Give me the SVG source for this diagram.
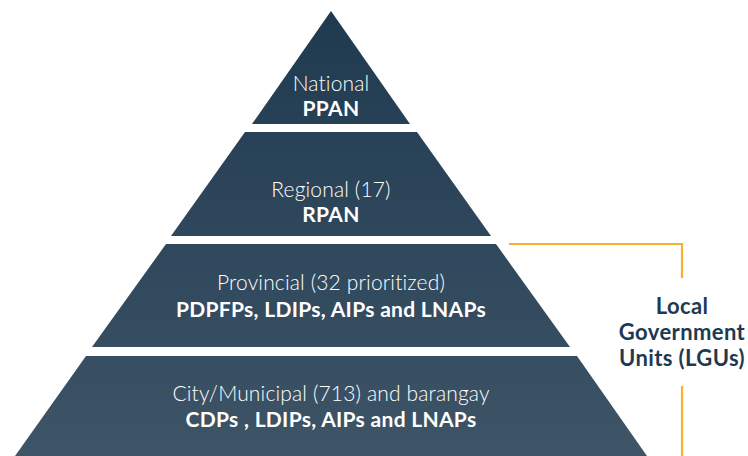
<svg xmlns="http://www.w3.org/2000/svg" width="748" height="456" viewBox="0 0 748 456">
  <defs>
    <!-- vertical shading shared by every tier of the pyramid -->
    <linearGradient id="tierFill" gradientUnits="userSpaceOnUse" x1="0" y1="11" x2="0" y2="456">
      <stop offset="0" stop-color="#1f3a50"/>
      <stop offset="1" stop-color="#3e5467"/>
    </linearGradient>
  </defs>
  <style>
    .tier { fill: url(#tierFill); }
    .lbl { font-family: Lato, "Open Sans", "Liberation Sans", sans-serif; fill: #ffffff; text-anchor: middle; }
    .reg { font-size: 21px; font-weight: 300; letter-spacing: 0.15px; }
    .bold { font-size: 21px; font-weight: 700; letter-spacing: 0.3px; }
    .side { font-family: Lato, "Open Sans", "Liberation Sans", sans-serif; font-size: 22px; font-weight: 700; fill: #1d3a52; text-anchor: middle; letter-spacing: 0.4px; }
    .bracket { fill: none; stroke: #f5b22a; stroke-width: 2.2; }
  </style>

  <!-- pyramid tiers: apex at (331,11), edge slope 0.71 -->
  <g id="national">
    <polygon class="tier" points="331,11 410,124 252,124"/>
    <text class="lbl reg" x="331" y="91">National</text>
    <text class="lbl bold" x="331" y="116">PPAN</text>
  </g>
  <g id="regional">
    <polygon class="tier" points="245,132 417,132 491,236 171,236"/>
    <text class="lbl reg" x="331" y="197">Regional (17)</text>
    <text class="lbl bold" x="331" y="222">RPAN</text>
  </g>
  <g id="provincial">
    <polygon class="tier" points="166,244 496,244 570,347 92,347"/>
    <text class="lbl reg" x="331" y="290">Provincial (32 prioritized)</text>
    <text class="lbl bold" x="331" y="317">PDPFPs, LDIPs, AIPs and LNAPs</text>
  </g>
  <g id="city-municipal">
    <polygon class="tier" points="86,356 577,356 647,456 15,456"/>
    <text class="lbl reg" x="331" y="401">City/Municipal (713) and barangay</text>
    <text class="lbl bold" x="331" y="427">CDPs , LDIPs, AIPs and LNAPs</text>
  </g>

  <!-- bracket grouping the local tiers -->
  <g id="connectors">
    <polyline class="bracket" points="509,244 682,244 682,278"/>
    <line class="bracket" x1="682" y1="386" x2="682" y2="456"/>
  </g>
  <g id="lgu-label">
    <text class="side" x="682" y="314">Local</text>
    <text class="side" x="682" y="340">Government</text>
    <text class="side" x="682" y="366">Units (LGUs)</text>
  </g>
</svg>
